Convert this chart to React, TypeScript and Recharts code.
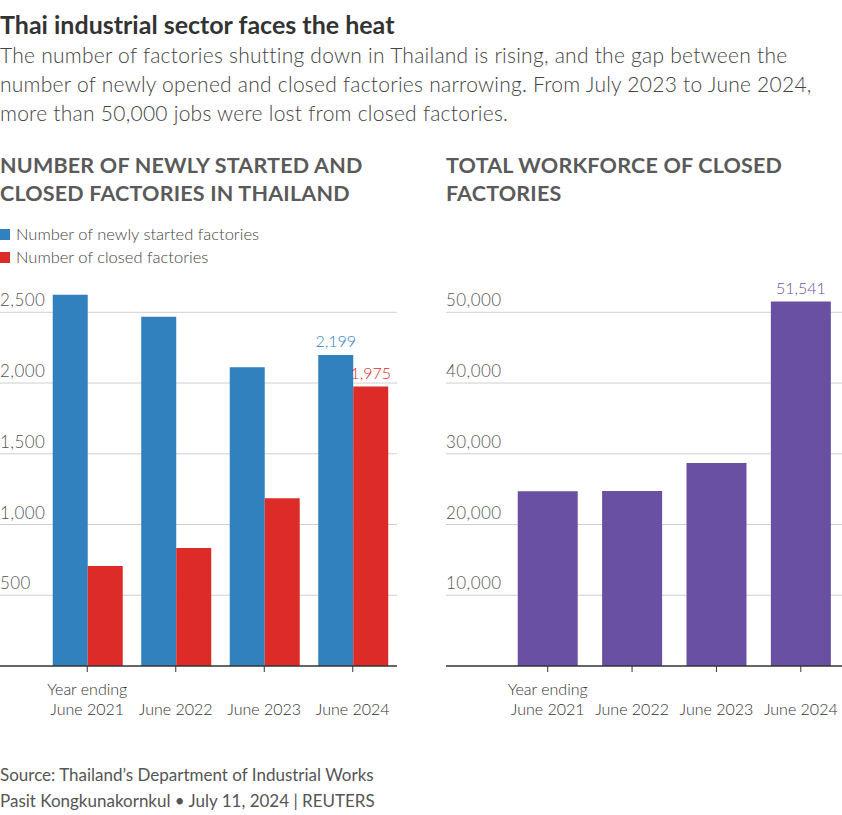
import React from "react";
import { BarChart, Bar, XAxis, YAxis, CartesianGrid, LabelList } from "recharts";

// Factory counts and workforce, year ending June
const categories = ["June 2021", "June 2022", "June 2023", "June 2024"];
const newlyStarted = [2624, 2468, 2112, 2199];
const closedFactories = [707, 834, 1186, 1975];
const closedWorkforce = [24710, 24750, 28710, 51541];
const factoryTicks = [500, 1000, 1500, 2000, 2500];
const workforceTicks = [10000, 20000, 30000, 40000, 50000];

const factoryData = categories.map((name, i) => ({
  name,
  started: newlyStarted[i],
  closed: closedFactories[i],
}));
const workforceData = categories.map((name, i) => ({ name, workers: closedWorkforce[i] }));

const BLUE = "#3181bf";
const RED = "#dd2c27";
const PURPLE = "#6a50a2";
const TEXT = "#555";
const FONT = "Lato, 'Noto Sans', sans-serif";

const fmt = (v: number) => v.toLocaleString("en-US");

const YTick = ({ y, payload, left }: any) => (
  <text x={left} y={y - 6} fill={TEXT} fontSize={17} fontWeight={300} letterSpacing={0.4} fontFamily={FONT}>
    {fmt(payload.value)}
  </text>
);

const XTick = ({ x, y, payload }: any) => (
  <g>
    {payload.value === categories[0] && (
      <text x={x} y={y + 21} textAnchor="middle" fill="#333" fontSize={16} fontWeight={300} fontFamily={FONT}>
        Year ending
      </text>
    )}
    <text x={x} y={y + 41} textAnchor="middle" fill="#333" fontSize={16} fontWeight={300} fontFamily={FONT}>
      {payload.value}
    </text>
  </g>
);

// value label shown only over the latest bar
const lastLabel = (color: string) => (props: any) => {
  const { x, y, width, value, index } = props;
  if (index !== categories.length - 1) return null;
  return (
    <text x={x + width / 2} y={y - 7.5} textAnchor="middle" fill={color} fontSize={16} fontWeight={300} fontFamily={FONT}>
      {fmt(value)}
    </text>
  );
};

const abs = (top: number, left = 0): React.CSSProperties => ({ position: "absolute", top, left });

export default function App() {
  return (
    <div
      style={{
        position: "absolute",
        left: 0,
        top: 0,
        width: 842,
        height: 815,
        overflow: "hidden",
        background: "#fff",
        fontFamily: FONT,
        color: TEXT,
      }}
    >
      <div style={{ ...abs(9), fontSize: 25, lineHeight: "30px", fontWeight: 700, color: "#333" }}>
        Thai industrial sector faces the heat
      </div>
      <div style={{ ...abs(40), width: 842, fontSize: 21, lineHeight: "29px", fontWeight: 300, letterSpacing: 0.25, color: "#444" }}>
        The number of factories shutting down in Thailand is rising, and the gap between the
        <br />
        number of newly opened and closed factories narrowing. From July 2023 to June 2024,
        <br />
        more than 50,000 jobs were lost from closed factories.
      </div>

      <div style={{ ...abs(151), fontSize: 21.5, lineHeight: "28px", fontWeight: 700, letterSpacing: 0.2, color: "#5a5a5a" }}>
        NUMBER OF NEWLY STARTED AND
        <br />
        CLOSED FACTORIES IN THAILAND
      </div>
      <div style={{ ...abs(151, 446), fontSize: 21.5, lineHeight: "28px", fontWeight: 700, letterSpacing: 0.2, color: "#5a5a5a" }}>
        TOTAL WORKFORCE OF CLOSED
        <br />
        FACTORIES
      </div>

      {[
        { label: "Number of newly started factories", color: BLUE, top: 224 },
        { label: "Number of closed factories", color: RED, top: 247 },
      ].map((item) => (
        <div key={item.label} style={{ ...abs(item.top), display: "flex", alignItems: "center", fontSize: 16.5, lineHeight: "20px", fontWeight: 300, color: "#444" }}>
          <span style={{ width: 10, height: 11, background: item.color, marginRight: 6, display: "inline-block" }} />
          {item.label}
        </div>
      ))}

      <div style={abs(270)}>
        <BarChart
          width={400}
          height={460}
          data={factoryData}
          margin={{ top: 14, right: 3, left: -1, bottom: 0 }}
          barGap={0}
          barCategoryGap="11%"
        >
          <CartesianGrid vertical={false} stroke="#cfcfcf" syncWithTicks />
          <YAxis
            width={1}
            domain={[0, 2700]}
            ticks={factoryTicks}
            axisLine={false}
            tickLine={false}
            tick={(p: any) => <YTick {...p} left={0} />}
          />
          <XAxis
            dataKey="name"
            height={64}
            interval={0}
            padding={{ left: 43, right: 0 }}
            axisLine={{ stroke: "#333", strokeWidth: 1.3 }}
            tickLine={{ stroke: "#333" }}
            tickSize={6}
            tick={<XTick />}
          />
          <Bar dataKey="started" fill={BLUE} isAnimationActive={false}>
            <LabelList dataKey="started" content={lastLabel(BLUE)} />
          </Bar>
          <Bar dataKey="closed" fill={RED} isAnimationActive={false}>
            <LabelList dataKey="closed" content={lastLabel(RED)} />
          </Bar>
        </BarChart>
      </div>

      <div style={abs(270, 446)}>
        <BarChart
          width={400}
          height={460}
          data={workforceData}
          margin={{ top: 14, right: 3, left: -1, bottom: 0 }}
          barCategoryGap="14.5%"
        >
          <CartesianGrid vertical={false} stroke="#cfcfcf" syncWithTicks />
          <YAxis
            width={1}
            domain={[0, 54000]}
            ticks={workforceTicks}
            axisLine={false}
            tickLine={false}
            tick={(p: any) => <YTick {...p} left={0} />}
          />
          <XAxis
            dataKey="name"
            height={64}
            interval={0}
            padding={{ left: 59.5, right: 0 }}
            axisLine={{ stroke: "#333", strokeWidth: 1.3 }}
            tickLine={{ stroke: "#333" }}
            tickSize={6}
            tick={<XTick />}
          />
          <Bar dataKey="workers" fill={PURPLE} isAnimationActive={false}>
            <LabelList dataKey="workers" content={lastLabel(PURPLE)} />
          </Bar>
        </BarChart>
      </div>

      <div style={{ ...abs(762), fontSize: 17, lineHeight: "26px", fontWeight: 400, color: TEXT }}>
        Source: Thailand’s Department of Industrial Works
        <br />
        Pasit Kongkunakornkul • July 11, 2024 | REUTERS
      </div>
    </div>
  );
}
